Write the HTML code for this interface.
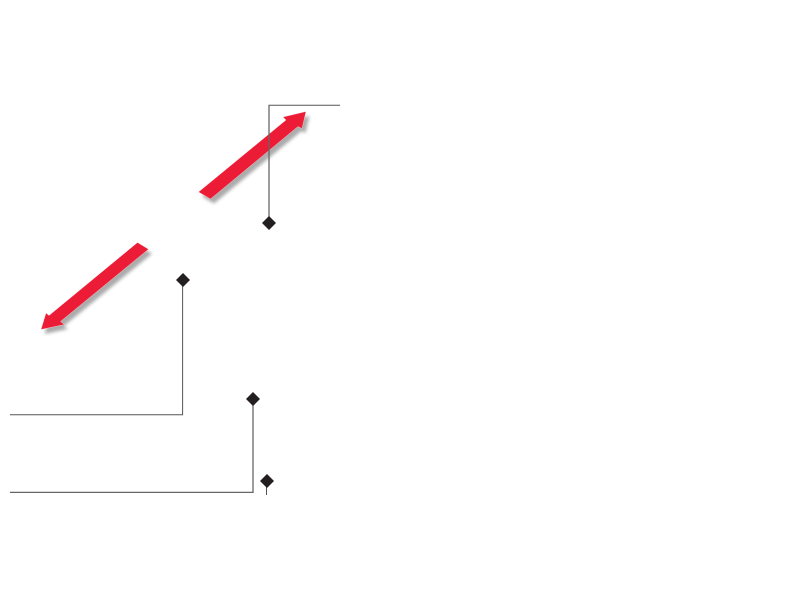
<!DOCTYPE html>
<html>
<head>
<meta charset="utf-8">
<style>
html,body{margin:0;padding:0;background:#fff;width:800px;height:600px;overflow:hidden}
svg{display:block}
</style>
</head>
<body>
<svg width="800" height="600" viewBox="0 0 800 600" xmlns="http://www.w3.org/2000/svg">
<defs>
<filter id="b" x="-20%" y="-20%" width="140%" height="140%"><feGaussianBlur stdDeviation="1.6"/></filter>
</defs>
<rect width="800" height="600" fill="#fff"/>
<!-- shadows -->
<g fill="#888" opacity="0.7" filter="url(#b)" transform="translate(3.5,4.5)">
<polygon points="198.500,192 210.500,199 298,126.500 302,128.500 306,111.500 283,117 286,120"/>
<polygon points="137.500,242.500 148.500,249.200 60.500,321.500 64.500,324.500 41,329.500 46,313 49,315.500"/>
</g>
<!-- arrows -->
<g fill="#ed1c36" stroke="#fff" stroke-width="0.3">
<polygon points="198.500,192 210.500,199 298,126.500 302,128.500 306,111.500 283,117 286,120"/>
<polygon points="137.500,242.500 148.500,249.200 60.500,321.500 64.500,324.500 41,329.500 46,313 49,315.500"/>
</g>
<!-- leader lines -->
<g fill="none">
<path d="M268.500 105.200H340" stroke="#555" stroke-width="1"/>
<path d="M269 105V223" stroke="#666" stroke-width="1.300"/>
<path d="M182.600 280V414.700H10" stroke="#555" stroke-width="1"/>
<path d="M253 399V492.400" stroke="#666" stroke-width="1.300"/>
<path d="M10 492.400H253.600" stroke="#666" stroke-width="1.200"/>
<path d="M266.500 481V495" stroke="#555" stroke-width="1"/>
</g>
<!-- diamonds -->
<g fill="#231f20">
<polygon points="269,216 276,223 269,230 262,223"/>
<polygon points="183,273 190,280 183,287 176,280"/>
<polygon points="253,392 260,399 253,406 246,399"/>
<polygon points="267,474 274,481 267,488 260,481"/>
</g>
</svg>
</body>
</html>
